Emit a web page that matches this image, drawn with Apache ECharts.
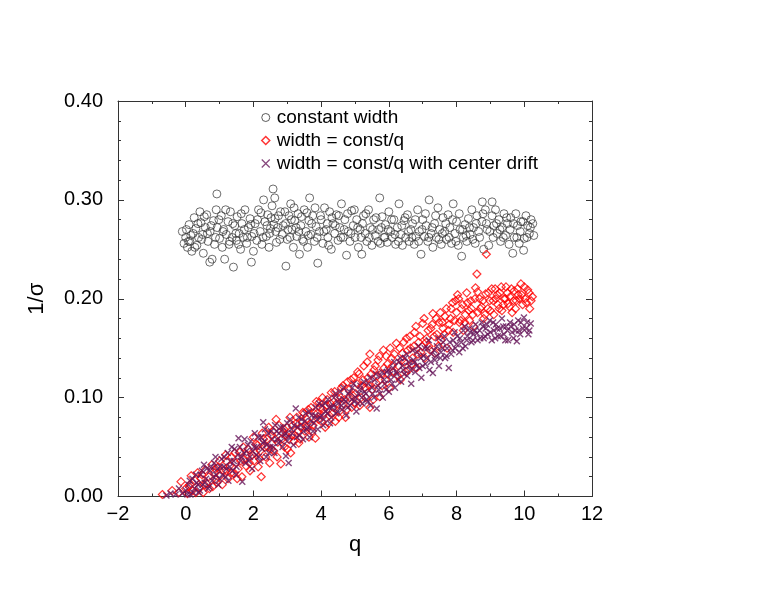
<!DOCTYPE html>
<html>
<head>
<meta charset="utf-8">
<script src="https://cdn.jsdelivr.net/npm/echarts@6/dist/echarts.min.js"></script>
<style>html,body{margin:0;padding:0;background:#fff}#c{width:774px;height:598px}</style>
</head>
<body>
<div id="c"></div>
<script>
const seriesNames = ['constant width', 'width = const/q', 'width = const/q with center drift'];
const xTicks = [-2, 0, 2, 4, 6, 8, 10, 12];
const yTicks = ['0.00', '0.10', '0.20', '0.30', '0.40'];

const constantWidth = [
[-0.1,0.268],[-0.05,0.256],[0.0,0.262],[0.05,0.252],[0.1,0.275],[0.12,0.258],[0.18,0.248],[0.22,0.266],[0.25,0.282],[0.3,0.271],
[0.33,0.254],[0.38,0.262],[0.42,0.288],[0.45,0.277],[0.5,0.265],[0.52,0.246],[0.58,0.272],[0.62,0.285],[0.66,0.258],[0.71,0.237],
[0.72,0.268],[0.78,0.24],[0.82,0.279],[0.85,0.255],[0.9,0.29],[0.92,0.306],[0.93,0.272],[1.0,0.261],[1.05,0.284],[1.08,0.252],
[1.12,0.27],[1.15,0.24],[1.2,0.265],[1.25,0.278],[1.28,0.255],[1.32,0.288],[1.37,0.262],[1.41,0.232],[1.45,0.274],[1.5,0.259],
[1.52,0.283],[1.58,0.266],[1.62,0.25],[1.66,0.276],[1.7,0.262],[1.75,0.29],[1.8,0.256],[1.85,0.272],[1.9,0.281],[1.94,0.237],
[1.95,0.263],[2.0,0.248],[2.05,0.276],[2.1,0.259],[2.15,0.29],[2.2,0.268],[2.25,0.255],[2.3,0.3],[2.34,0.278],[2.38,0.263],
[2.42,0.285],[2.46,0.252],[2.5,0.271],[2.55,0.294],[2.58,0.311],[2.63,0.302],[2.64,0.281],[2.68,0.257],[2.72,0.272],[2.8,0.288],
[2.85,0.265],[2.96,0.233],[2.95,0.276],[3.0,0.26],[3.05,0.284],[3.1,0.296],[3.14,0.27],[3.18,0.252],[3.22,0.279],[3.28,0.263],
[3.32,0.286],[3.36,0.245],[3.4,0.274],[3.45,0.26],[3.5,0.29],[3.55,0.268],[3.6,0.252],[3.66,0.302],[3.64,0.279],[3.7,0.265],
[3.75,0.284],[3.8,0.258],[3.85,0.273],[3.9,0.236],[3.95,0.268],[4.0,0.28],[4.05,0.256],[4.1,0.292],[4.15,0.27],[4.2,0.262],
[4.25,0.288],[4.3,0.25],[4.35,0.276],[4.4,0.266],[4.45,0.285],[4.5,0.259],[4.55,0.272],[4.6,0.296],[4.65,0.262],[4.7,0.28],
[4.75,0.244],[4.8,0.268],[4.85,0.258],[4.9,0.289],[4.95,0.274],[5.0,0.262],[5.05,0.28],[5.1,0.252],[5.15,0.27],[5.2,0.245],
[5.25,0.284],[5.3,0.266],[5.35,0.258],[5.4,0.29],[5.45,0.272],[5.5,0.254],[5.55,0.28],[5.6,0.264],[5.73,0.302],[5.7,0.27],
[5.75,0.256],[5.8,0.283],[5.85,0.262],[5.9,0.275],[5.95,0.257],[6.0,0.288],[6.05,0.268],[6.1,0.262],[6.15,0.28],[6.2,0.255],
[6.25,0.272],[6.3,0.296],[6.35,0.265],[6.4,0.254],[6.45,0.279],[6.5,0.262],[6.55,0.285],[6.6,0.258],[6.65,0.27],[6.7,0.276],
[6.75,0.255],[6.8,0.263],[6.85,0.29],[6.9,0.268],[6.95,0.245],[7.0,0.28],[7.05,0.263],[7.1,0.274],[7.15,0.258],[7.19,0.3],
[7.25,0.266],[7.3,0.252],[7.35,0.276],[7.4,0.262],[7.45,0.292],[7.5,0.27],[7.55,0.255],[7.6,0.282],[7.65,0.268],[7.7,0.26],
[7.75,0.285],[7.8,0.272],[7.85,0.256],[7.9,0.296],[7.95,0.266],[8.0,0.278],[8.05,0.254],[8.1,0.27],[8.15,0.243],[8.2,0.262],
[8.25,0.275],[8.3,0.258],[8.35,0.281],[8.4,0.265],[8.45,0.29],[8.5,0.272],[8.55,0.256],[8.6,0.284],[8.65,0.268],[8.76,0.298],
[8.75,0.278],[8.8,0.25],[8.85,0.29],[8.9,0.27],[8.95,0.254],[9.05,0.298],[9.05,0.284],[9.1,0.274],[9.15,0.29],[9.2,0.266],
[9.25,0.28],[9.3,0.258],[9.35,0.272],[9.4,0.286],[9.45,0.264],[9.5,0.276],[9.55,0.255],[9.6,0.282],[9.66,0.246],[9.7,0.262],
[9.75,0.286],[9.8,0.274],[9.85,0.256],[9.9,0.278],[9.98,0.249],[10.0,0.261],[10.05,0.284],[10.1,0.274],[10.15,0.266],[10.2,0.28],
[10.28,0.264],
[0.02,0.27],[0.08,0.258],[0.15,0.264],[0.27,0.252],[0.36,0.276],[0.47,0.26],[0.55,0.283],[0.64,0.266],[0.75,0.274],[0.88,0.262],
[0.98,0.28],[1.1,0.268],[1.18,0.29],[1.3,0.258],[1.39,0.276],[1.48,0.266],[1.56,0.255],[1.64,0.286],[1.73,0.27],[1.82,0.262],
[1.92,0.275],[2.02,0.266],[2.12,0.28],[2.22,0.287],[2.28,0.262],[2.4,0.274],[2.48,0.266],[2.52,0.282],[2.6,0.275],[2.66,0.268],
[2.74,0.284],[2.78,0.26],[2.88,0.274],[2.93,0.288],[3.02,0.27],[3.08,0.262],[3.12,0.28],[3.2,0.292],[3.26,0.272],[3.34,0.268],
[3.42,0.283],[3.48,0.258],[3.58,0.287],[3.62,0.264],[3.72,0.276],[3.82,0.292],[3.88,0.262],[3.98,0.284],[4.08,0.268],[4.18,0.276],
[4.22,0.254],[4.32,0.282],[4.42,0.274],[4.52,0.284],[4.58,0.262],[4.68,0.27],[4.78,0.286],[4.88,0.266],[4.98,0.29],[5.08,0.272],
[5.18,0.262],[5.22,0.276],[5.32,0.286],[5.42,0.262],[5.52,0.27],[5.62,0.282],[5.68,0.258],[5.78,0.272],[5.88,0.262],[5.98,0.27],
[6.08,0.28],[6.18,0.265],[6.28,0.258],[6.38,0.274],[6.48,0.282],[6.58,0.268],[6.68,0.262],[6.78,0.28],[6.88,0.258],[6.98,0.27],
[7.08,0.286],[7.18,0.262],[7.28,0.272],[7.38,0.284],[7.48,0.26],[7.58,0.266],[7.68,0.276],[7.78,0.262],[7.88,0.28],[7.98,0.258],
[8.08,0.286],[8.18,0.27],[8.28,0.264],[8.38,0.272],[8.48,0.26],[8.58,0.276],[8.68,0.262],[8.78,0.286],[8.88,0.276],[8.98,0.268],
[9.08,0.262],[9.18,0.276],[9.28,0.27],[9.38,0.262],[9.48,0.282],[9.58,0.27],[9.68,0.276],[9.78,0.262],[9.88,0.268],[9.96,0.278],
[10.08,0.262],[10.18,0.272],[10.25,0.276]
];

const constQ = [
[-0.69,0.002],[-0.2,0.004],[-0.14,0.015],[0.0,0.008],[0.05,0.003],[0.16,0.021],[0.12,0.012],[0.2,0.006],[0.28,0.016],[0.35,0.024],
[0.4,0.009],[0.45,0.018],[0.52,0.004],[0.58,0.027],[0.62,0.013],[0.68,0.02],[0.77,0.032],[0.8,0.01],[0.85,0.024],[0.9,0.017],
[0.96,0.03],[1.02,0.021],[1.08,0.012],[1.21,0.035],[1.2,0.026],[1.25,0.018],[1.3,0.031],[1.36,0.04],[1.42,0.023],[1.48,0.034],
[1.55,0.028],[1.6,0.045],[1.66,0.02],[1.72,0.038],[1.78,0.031],[1.84,0.048],[1.9,0.026],[1.96,0.042],[2.02,0.036],[2.08,0.053],
[2.14,0.03],[2.2,0.046],[2.23,0.02],[2.3,0.058],[2.36,0.04],[2.42,0.05],[2.48,0.034],[2.54,0.062],[2.6,0.046],[2.67,0.078],
[2.72,0.055],[2.81,0.033],[2.86,0.064],[2.92,0.05],[2.98,0.07],[3.04,0.058],[3.1,0.044],[3.16,0.072],[3.22,0.062],[3.28,0.08],
[3.34,0.054],[3.4,0.07],[3.46,0.085],[3.52,0.066],[3.58,0.078],[3.64,0.06],[3.7,0.09],[3.76,0.072],[3.83,0.059],[3.88,0.084],
[3.94,0.095],[4.0,0.076],[4.06,0.088],[4.12,0.07],[4.18,0.098],[4.24,0.082],[4.3,0.105],[4.36,0.09],[4.42,0.076],[4.48,0.1],
[4.54,0.086],[4.6,0.11],[4.66,0.094],[4.72,0.08],[4.78,0.116],[4.84,0.1],[4.9,0.09],[4.96,0.12],[5.02,0.104],[5.08,0.126],
[5.14,0.092],[5.2,0.112],[5.26,0.132],[5.32,0.1],[5.38,0.12],[5.44,0.144],[5.44,0.09],[5.5,0.108],[5.56,0.128],[5.62,0.115],
[5.68,0.138],[5.73,0.101],[5.78,0.124],[5.84,0.148],[5.9,0.118],[5.96,0.134],[6.02,0.11],[6.08,0.14],[6.14,0.126],[6.22,0.155],
[6.28,0.132],[6.34,0.118],[6.4,0.145],[6.46,0.136],[6.52,0.16],[6.58,0.128],[6.64,0.15],[6.7,0.14],[6.76,0.166],[6.82,0.13],
[6.88,0.156],[6.94,0.146],[7.0,0.175],[7.06,0.14],[7.12,0.16],[7.18,0.152],[7.24,0.17],[7.3,0.185],[7.36,0.145],[7.42,0.164],
[7.48,0.176],[7.54,0.158],[7.6,0.17],[7.66,0.182],[7.72,0.15],[7.78,0.174],[7.84,0.19],[7.9,0.166],[7.97,0.198],[8.03,0.204],
[8.08,0.176],[8.14,0.19],[8.2,0.168],[8.26,0.184],[8.32,0.196],[8.38,0.178],[8.44,0.19],[8.5,0.172],[8.56,0.211],[8.6,0.225],
[8.62,0.186],[8.68,0.2],[8.74,0.192],[8.8,0.18],[8.88,0.245],[8.86,0.205],[8.92,0.19],[8.98,0.198],[9.04,0.21],[9.1,0.184],
[9.16,0.2],[9.22,0.194],[9.28,0.206],[9.34,0.188],[9.4,0.2],[9.46,0.212],[9.52,0.195],[9.58,0.202],[9.64,0.186],[9.7,0.208],
[9.76,0.198],[9.82,0.204],[9.9,0.215],[9.95,0.194],[10.02,0.2],[10.1,0.209],[10.16,0.19],[10.24,0.202],
[-0.4,0.006],[0.1,0.01],[0.3,0.004],[0.48,0.022],[0.55,0.012],[0.7,0.008],[0.88,0.028],[0.92,0.014],[1.0,0.036],[1.12,0.026],
[1.18,0.042],[1.35,0.024],[1.45,0.044],[1.52,0.018],[1.62,0.036],[1.7,0.05],[1.8,0.042],[1.88,0.034],[2.0,0.06],[2.05,0.044],
[2.12,0.052],[2.18,0.038],[2.26,0.064],[2.34,0.05],[2.4,0.058],[2.45,0.07],[2.52,0.048],[2.58,0.066],[2.64,0.058],[2.7,0.04],
[2.76,0.072],[2.84,0.058],[2.9,0.068],[2.96,0.062],[3.0,0.048],[3.08,0.08],[3.14,0.062],[3.2,0.056],[3.26,0.074],[3.32,0.066],
[3.38,0.058],[3.44,0.076],[3.5,0.084],[3.56,0.07],[3.62,0.088],[3.68,0.074],[3.74,0.066],[3.8,0.084],[3.86,0.096],[3.92,0.078],
[3.98,0.09],[4.04,0.1],[4.1,0.084],[4.16,0.092],[4.22,0.074],[4.28,0.094],[4.34,0.084],[4.4,0.106],[4.46,0.094],[4.52,0.08],
[4.58,0.1],[4.64,0.112],[4.7,0.098],[4.76,0.088],[4.82,0.108],[4.88,0.118],[4.94,0.102],[5.0,0.094],[5.06,0.114],[5.12,0.124],
[5.18,0.1],[5.24,0.118],[5.3,0.11],[5.36,0.136],[5.42,0.112],[5.48,0.124],[5.54,0.098],[5.6,0.132],[5.66,0.122],[5.72,0.142],
[5.8,0.112],[5.86,0.13],[5.92,0.142],[5.98,0.124],[6.04,0.15],[6.1,0.132],[6.16,0.144],[6.26,0.122],[6.32,0.15],[6.38,0.138],
[6.44,0.156],[6.5,0.126],[6.56,0.148],[6.62,0.162],[6.68,0.134],[6.74,0.152],[6.8,0.172],[6.86,0.144],[6.92,0.162],[6.98,0.152],
[7.04,0.18],[7.1,0.156],[7.16,0.168],[7.22,0.148],[7.28,0.174],[7.34,0.162],[7.4,0.18],[7.46,0.152],[7.52,0.186],[7.58,0.176],
[7.64,0.164],[7.7,0.19],[7.76,0.168],[7.82,0.18],[7.88,0.196],[7.94,0.178],[8.0,0.186],[8.06,0.2],[8.12,0.178],[8.18,0.194],
[8.24,0.176],[8.3,0.206],[8.36,0.188],[8.42,0.198],[8.48,0.184],[8.54,0.2],[8.62,0.207],[8.7,0.19],[8.78,0.198],[8.84,0.184],
[8.94,0.206],[9.0,0.188],[9.08,0.198],[9.14,0.21],[9.2,0.204],[9.26,0.19],[9.32,0.212],[9.38,0.194],[9.44,0.2],[9.5,0.206],
[9.56,0.192],[9.62,0.21],[9.68,0.198],[9.74,0.19],[9.8,0.21],[9.86,0.2],[9.92,0.204],[10.0,0.212],[10.06,0.196],[10.14,0.206],
[10.2,0.198]
];

const centerDrift = [
[-0.57,0.001],[-0.3,0.002],[-0.1,0.003],[0.0,0.006],[0.08,0.012],[0.14,0.002],[0.2,0.018],[0.26,0.008],[0.32,0.014],[0.38,0.004],
[0.44,0.022],[0.5,0.012],[0.54,0.032],[0.6,0.018],[0.66,0.008],[0.72,0.026],[0.78,0.016],[0.84,0.034],[0.9,0.022],[0.96,0.012],
[1.02,0.03],[1.08,0.022],[1.14,0.04],[1.2,0.028],[1.26,0.016],[1.32,0.036],[1.38,0.026],[1.44,0.048],[1.5,0.03],[1.56,0.059],
[1.62,0.036],[1.67,0.015],[1.72,0.044],[1.78,0.034],[1.84,0.052],[1.9,0.04],[1.96,0.028],[2.02,0.05],[2.08,0.042],[2.14,0.06],
[2.2,0.036],[2.29,0.075],[2.26,0.048],[2.32,0.056],[2.38,0.04],[2.44,0.064],[2.5,0.05],[2.56,0.058],[2.62,0.044],[2.68,0.066],
[2.74,0.054],[2.8,0.07],[2.86,0.05],[2.96,0.041],[3.04,0.034],[2.92,0.062],[3.0,0.074],[3.06,0.06],[3.12,0.068],[3.18,0.052],
[3.25,0.089],[3.3,0.07],[3.36,0.062],[3.42,0.078],[3.48,0.066],[3.54,0.084],[3.6,0.07],[3.66,0.06],[3.72,0.082],[3.78,0.074],
[3.84,0.09],[3.9,0.068],[3.96,0.08],[4.02,0.092],[4.08,0.078],[4.14,0.086],[4.2,0.098],[4.26,0.074],[4.32,0.09],[4.38,0.1],
[4.44,0.084],[4.5,0.094],[4.56,0.106],[4.62,0.088],[4.68,0.098],[4.74,0.082],[4.8,0.104],[4.86,0.092],[4.92,0.11],[4.98,0.096],
[5.04,0.086],[5.1,0.104],[5.16,0.112],[5.22,0.094],[5.28,0.106],[5.34,0.098],[5.4,0.114],[5.46,0.092],[5.52,0.104],[5.58,0.118],
[5.64,0.089],[5.7,0.108],[5.76,0.122],[5.82,0.1],[5.88,0.114],[5.94,0.126],[6.0,0.106],[6.06,0.118],[6.12,0.13],[6.18,0.11],
[6.24,0.124],[6.3,0.136],[6.36,0.116],[6.42,0.128],[6.48,0.14],[6.54,0.122],[6.6,0.132],[6.66,0.114],[6.72,0.138],[6.78,0.126],
[6.84,0.146],[6.9,0.13],[6.96,0.12],[7.02,0.142],[7.08,0.134],[7.14,0.15],[7.2,0.128],[7.3,0.125],[7.26,0.144],[7.36,0.138],
[7.42,0.152],[7.48,0.132],[7.54,0.146],[7.6,0.156],[7.66,0.14],[7.77,0.13],[7.72,0.15],[7.84,0.144],[7.9,0.158],[7.96,0.15],
[8.02,0.162],[8.08,0.146],[8.14,0.156],[8.2,0.168],[8.26,0.152],[8.32,0.162],[8.38,0.17],[8.44,0.156],[8.5,0.164],[8.56,0.174],
[8.62,0.158],[8.68,0.168],[8.74,0.176],[8.8,0.16],[8.86,0.17],[8.92,0.164],[8.98,0.178],[9.04,0.158],[9.1,0.168],[9.16,0.174],
[9.22,0.162],[9.28,0.17],[9.34,0.18],[9.4,0.164],[9.46,0.172],[9.52,0.158],[9.58,0.176],[9.64,0.166],[9.7,0.174],[9.78,0.157],
[9.84,0.168],[9.9,0.176],[9.99,0.181],[10.05,0.17],[10.12,0.164],[10.19,0.175],
[-0.45,0.003],[-0.2,0.008],[0.05,0.002],[0.12,0.016],[0.22,0.004],[0.3,0.022],[0.36,0.012],[0.42,0.006],[0.48,0.026],[0.56,0.014],
[0.62,0.028],[0.7,0.01],[0.76,0.03],[0.82,0.02],[0.88,0.04],[0.94,0.028],[1.0,0.018],[1.06,0.038],[1.12,0.03],[1.18,0.02],
[1.24,0.044],[1.3,0.03],[1.36,0.05],[1.42,0.036],[1.48,0.022],[1.54,0.042],[1.6,0.05],[1.66,0.04],[1.74,0.058],[1.8,0.046],
[1.86,0.036],[1.92,0.056],[1.98,0.046],[2.04,0.064],[2.1,0.05],[2.16,0.04],[2.22,0.06],[2.28,0.054],[2.34,0.068],[2.4,0.052],
[2.46,0.044],[2.52,0.066],[2.58,0.05],[2.64,0.072],[2.7,0.058],[2.76,0.064],[2.82,0.056],[2.88,0.07],[2.94,0.064],[3.0,0.056],
[3.08,0.078],[3.14,0.064],[3.2,0.072],[3.28,0.06],[3.34,0.08],[3.4,0.072],[3.46,0.058],[3.52,0.076],[3.58,0.068],[3.64,0.086],
[3.7,0.076],[3.76,0.066],[3.82,0.082],[3.88,0.078],[3.94,0.094],[4.0,0.082],[4.06,0.072],[4.12,0.094],[4.18,0.084],[4.24,0.09],
[4.3,0.08],[4.36,0.092],[4.42,0.104],[4.48,0.086],[4.54,0.098],[4.6,0.092],[4.66,0.11],[4.72,0.096],[4.78,0.09],[4.84,0.106],
[4.9,0.098],[4.96,0.114],[5.02,0.1],[5.08,0.094],[5.14,0.108],[5.2,0.1],[5.26,0.116],[5.32,0.104],[5.38,0.096],[5.44,0.12],
[5.5,0.11],[5.56,0.1],[5.62,0.124],[5.68,0.112],[5.74,0.104],[5.8,0.126],[5.86,0.118],[5.92,0.108],[5.98,0.128],[6.04,0.124],
[6.1,0.114],[6.16,0.136],[6.22,0.126],[6.28,0.118],[6.34,0.14],[6.4,0.132],[6.46,0.124],[6.52,0.144],[6.58,0.136],[6.64,0.128],
[6.7,0.148],[6.76,0.136],[6.82,0.132],[6.88,0.152],[6.94,0.14],[7.0,0.132],[7.06,0.15],[7.12,0.14],[7.18,0.158],[7.24,0.136],
[7.34,0.148],[7.4,0.142],[7.46,0.16],[7.52,0.14],[7.58,0.15],[7.64,0.162],[7.7,0.142],[7.8,0.156],[7.88,0.148],[7.94,0.166],
[8.0,0.154],[8.1,0.16],[8.18,0.15],[8.24,0.172],[8.3,0.158],[8.4,0.166],[8.48,0.158],[8.54,0.168],[8.6,0.165],[8.7,0.16],
[8.78,0.172],[8.84,0.162],[8.9,0.174],[9.0,0.166],[9.08,0.176],[9.14,0.16],[9.2,0.17],[9.3,0.162],[9.38,0.172],[9.44,0.158],
[9.5,0.168],[9.6,0.172],[9.68,0.16],[9.74,0.168],[9.82,0.178],[9.88,0.164],[9.96,0.17],[10.08,0.176],[10.15,0.168]
];

const FONT = "'Liberation Sans', Arial, Helvetica, sans-serif";
const axisColor = '#333';
const circleColor = '#333';
const diamondColor = '#ff0000';
const crossColor = '#66175a';
const crossPath = 'path://M0,0L10,10M10,0L0,10';

function fmtX(v) { return v < 0 ? '\u2212' + (-v) : String(v); }
function fmtY(v) { const i = Math.round(v * 10); return yTicks[i] !== undefined ? yTicks[i] : v.toFixed(2); }

const baseX = {
  type: 'value', min: xTicks[0], max: xTicks[xTicks.length - 1], interval: 2,
  axisLine: { show: true, onZero: false, lineStyle: { color: axisColor, width: 1 } },
  axisTick: { show: true, inside: true, length: 6, lineStyle: { color: axisColor } },
  minorTick: { show: true, splitNumber: 2, length: 3, lineStyle: { color: axisColor } },
  splitLine: { show: false }
};
const baseY = {
  type: 'value', min: 0, max: 0.4, interval: 0.1,
  axisLine: { show: true, onZero: false, lineStyle: { color: axisColor, width: 1 } },
  axisTick: { show: true, inside: true, length: 6, lineStyle: { color: axisColor } },
  minorTick: { show: true, splitNumber: 5, length: 3, lineStyle: { color: axisColor } },
  splitLine: { show: false }
};

const chart = echarts.init(document.getElementById('c'), null, { renderer: 'canvas' });
chart.setOption({
  backgroundColor: '#fff',
  animation: false,
  grid: { left: 118, right: 182, top: 101, bottom: 101.5, containLabel: false },
  xAxis: [
    Object.assign({}, baseX, {
      position: 'bottom', name: 'q', nameLocation: 'middle', nameGap: 37,
      nameTextStyle: { fontFamily: FONT, fontSize: 22, color: '#000' },
      axisLabel: { margin: 8, fontFamily: FONT, fontSize: 20, color: '#000', formatter: fmtX }
    }),
    Object.assign({}, baseX, { position: 'top', axisLabel: { show: false } })
  ],
  yAxis: [
    Object.assign({}, baseY, {
      position: 'left', name: '1/\u03c3', nameLocation: 'middle', nameGap: 70,
      nameTextStyle: { fontFamily: FONT, fontSize: 22, color: '#000' },
      axisLabel: { margin: 15, fontFamily: FONT, fontSize: 20, color: '#000', formatter: fmtY }
    }),
    Object.assign({}, baseY, { position: 'right', axisLabel: { show: false } })
  ],
  legend: {
    orient: 'vertical', left: 256, top: 103, itemGap: 4, itemWidth: 8, itemHeight: 8,
    textStyle: { fontFamily: FONT, fontSize: 19, color: '#000', lineHeight: 19, padding: [0, 0, 0, 2] },
    data: [
      { name: seriesNames[0], icon: 'circle', itemStyle: { color: 'rgba(0,0,0,0)', borderColor: circleColor, borderWidth: 1 } },
      { name: seriesNames[1], icon: 'diamond', itemStyle: { color: 'rgba(0,0,0,0)', borderColor: diamondColor, borderWidth: 1.5 } },
      { name: seriesNames[2], icon: crossPath, itemStyle: { color: 'rgba(0,0,0,0)', borderColor: crossColor, borderWidth: 1.2 } }
    ]
  },
  series: [
    {
      name: seriesNames[0], type: 'scatter', xAxisIndex: 0, yAxisIndex: 0, data: constantWidth,
      symbol: 'circle', symbolSize: 8,
      itemStyle: { color: 'rgba(0,0,0,0)', borderColor: circleColor, borderWidth: 0.9 }
    },
    {
      name: seriesNames[1], type: 'scatter', xAxisIndex: 0, yAxisIndex: 0, data: constQ,
      symbol: 'diamond', symbolSize: 8,
      itemStyle: { color: 'rgba(0,0,0,0)', borderColor: diamondColor, borderWidth: 1.2 }
    },
    {
      name: seriesNames[2], type: 'scatter', xAxisIndex: 0, yAxisIndex: 0, data: centerDrift,
      symbol: crossPath, symbolSize: 6,
      itemStyle: { color: 'rgba(0,0,0,0)', borderColor: crossColor, borderWidth: 1.4 }
    }
  ]
});
</script>
</body>
</html>
